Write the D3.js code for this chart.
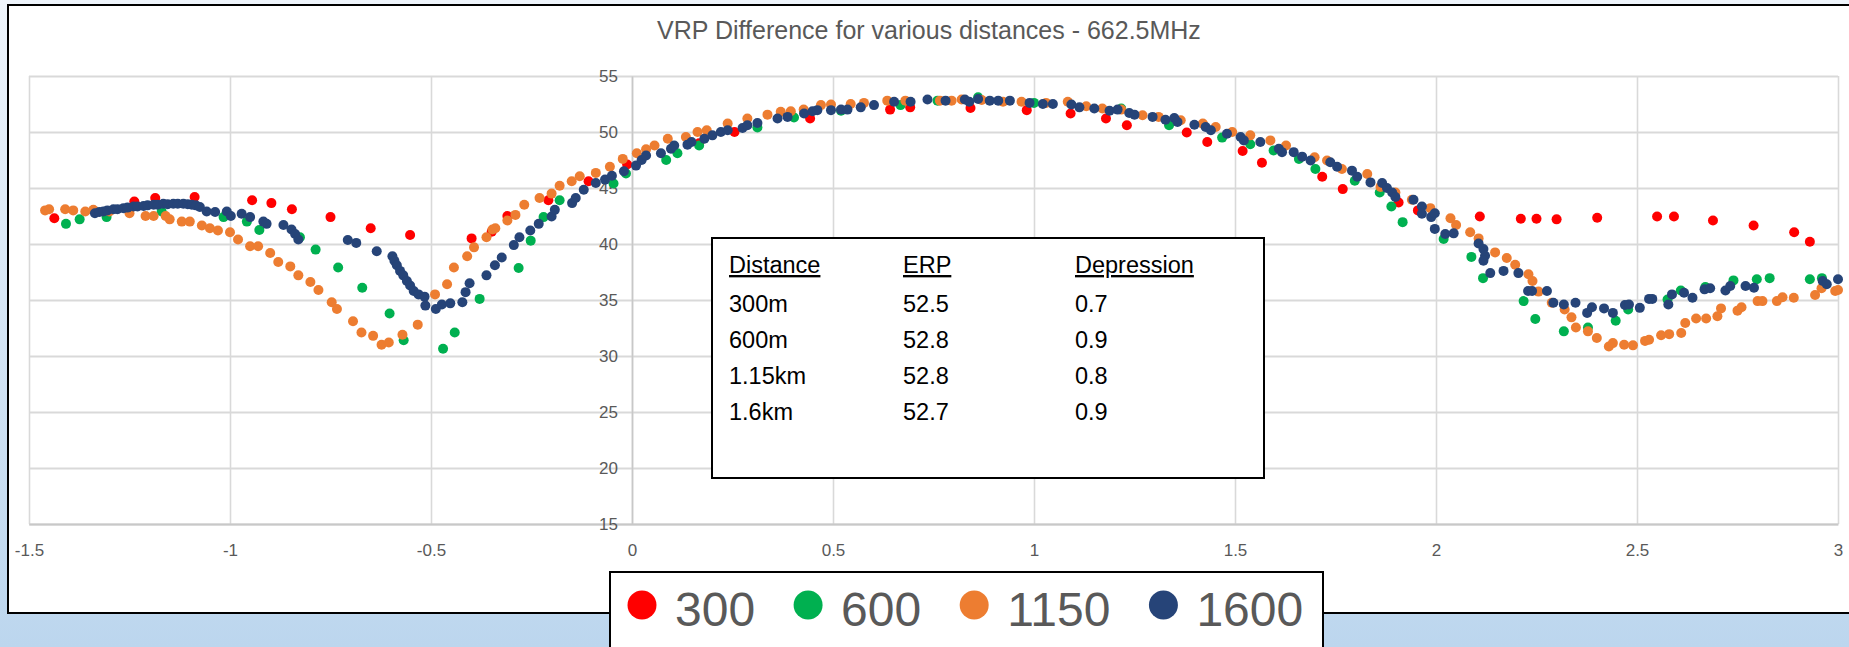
<!DOCTYPE html>
<html><head><meta charset="utf-8">
<script src="https://cdn.jsdelivr.net/npm/d3@7"></script>
<style>
html,body{margin:0;padding:0;overflow:hidden;}
body{width:1849px;height:647px;}
text{font-family:"Liberation Sans",Arial,sans-serif;}
</style></head><body>
<svg id="c" width="1849" height="647"></svg>
<script>
const chartTitle = "VRP Difference for various distances - 662.5MHz";
const xTicks = [-1.5,-1,-0.5,0,0.5,1,1.5,2,2.5,3];
const xTickLabels = ["-1.5","-1","-0.5","0","0.5","1","1.5","2","2.5","3"];
const yTicks = [15,20,25,30,35,40,45,50,55];
const seriesLabels = ["300","600","1150","1600"];
const seriesColors = ["#ff0000","#00b050","#ed7d31","#264478"];

const d300 = [[-1.437,42.3],[-1.238,43.8],[-1.186,44.1],[-1.088,44.2],[-0.945,43.9],[-0.897,43.65],[-0.846,43.1],[-0.750,42.4],[-0.650,41.4],[-0.552,40.8],[-0.399,40.5],[-0.349,41.1],[-0.310,42.5],[-0.208,43.9],[-0.108,45.6],[-0.012,47.1],[0.167,49.0],[0.255,50.0],[0.443,51.2],[0.642,52.0],[0.692,52.2],[0.842,52.15],[0.982,51.95],[1.091,51.65],[1.179,51.2],[1.231,50.6],[1.380,49.95],[1.431,49.1],[1.519,48.3],[1.567,47.25],[1.717,46.0],[1.768,44.9],[1.907,43.7],[1.955,43.0],[2.109,42.45],[2.211,42.25],[2.250,42.25],[2.300,42.2],[2.401,42.35],[2.550,42.45],[2.592,42.45],[2.689,42.1],[2.790,41.65],[2.891,41.05],[2.930,40.2]];

const d600 = [[-1.408,41.8],[-1.374,42.2],[-1.307,42.4],[-1.17,42.9],[-1.016,42.4],[-0.958,42.0],[-0.927,41.25],[-0.826,40.6],[-0.787,39.5],[-0.731,37.9],[-0.671,36.1],[-0.603,33.8],[-0.568,31.4],[-0.470,30.65],[-0.441,32.1],[-0.379,35.1],[-0.282,37.85],[-0.252,40.3],[-0.220,42.4],[-0.180,43.9],[-0.046,45.4],[-0.015,46.3],[0.085,47.5],[0.113,48.1],[0.167,48.8],[0.312,50.4],[0.403,51.3],[0.52,51.9],[0.668,52.4],[0.76,52.8],[0.861,53.1],[1.0,52.6],[1.217,52.1],[1.336,50.6],[1.468,49.5],[1.538,48.9],[1.596,48.35],[1.659,47.6],[1.700,46.7],[1.798,45.65],[1.860,44.6],[1.889,43.35],[1.917,41.95],[2.019,40.45],[2.088,38.85],[2.117,36.95],[2.218,34.9],[2.247,33.3],[2.318,32.2],[2.378,32.55],[2.447,33.15],[2.478,34.15],[2.576,35.05],[2.609,35.85],[2.670,36.15],[2.740,36.75],[2.798,36.85],[2.830,36.95],[2.930,36.85],[2.960,36.95]];

const d1150 = [[-1.46,43.0],[-1.45,43.1],[-1.41,43.1],[-1.39,43.0],[-1.36,42.9],[-1.34,43.05],[-1.30,42.9],[-1.25,42.75],[-1.21,42.5],[-1.19,42.5],[-1.16,42.5],[-1.15,42.2],[-1.12,42.0],[-1.10,42.0],[-1.07,41.65],[-1.05,41.4],[-1.03,41.2],[-1.00,41.05],[-0.98,40.4],[-0.95,39.8],[-0.93,39.8],[-0.90,39.2],[-0.88,38.4],[-0.85,38.0],[-0.83,37.2],[-0.80,36.6],[-0.78,35.9],[-0.747,34.8],[-0.734,34.2],[-0.694,33.1],[-0.673,32.1],[-0.644,31.8],[-0.623,31.0],[-0.605,31.2],[-0.571,31.9],[-0.533,32.8],[-0.49,35.5],[-0.46,36.4],[-0.443,37.9],[-0.41,38.9],[-0.393,39.7],[-0.362,40.6],[-0.347,41.3],[-0.34,41.4],[-0.31,42.1],[-0.29,42.6],[-0.268,43.5],[-0.23,44.1],[-0.20,44.5],[-0.18,45.2],[-0.15,45.6],[-0.13,46.05],[-0.09,46.35],[-0.055,46.9],[-0.023,47.6],[0.012,48.1],[0.035,48.45],[0.056,48.8],[0.089,49.4],[0.134,49.55],[0.163,50.0],[0.186,50.15],[0.238,50.75],[0.287,51.2],[0.337,51.55],[0.37,51.8],[0.395,51.85],[0.427,52.0],[0.47,52.4],[0.495,52.45],[0.544,52.5],[0.577,52.6],[0.635,52.8],[0.68,52.8],[0.766,52.8],[0.795,52.8],[0.82,52.9],[0.87,52.85],[0.923,52.7],[0.969,52.7],[1.03,52.6],[1.084,52.7],[1.13,52.3],[1.17,52.1],[1.217,52.0],[1.27,51.5],[1.31,51.35],[1.365,51.05],[1.42,50.75],[1.452,50.45],[1.493,50.0],[1.538,49.7],[1.588,49.25],[1.627,48.8],[1.698,47.75],[1.729,47.45],[1.766,46.7],[1.829,46.25],[1.862,45.1],[1.899,44.6],[1.94,43.95],[1.986,43.2],[2.036,42.3],[2.05,41.7],[2.085,41.05],[2.106,40.5],[2.147,39.25],[2.176,38.75],[2.197,38.15],[2.23,37.3],[2.24,36.7],[2.255,35.75],[2.288,34.75],[2.32,34.15],[2.337,33.45],[2.348,32.55],[2.378,32.2],[2.4,31.6],[2.43,30.85],[2.44,31.15],[2.468,31.0],[2.49,30.95],[2.52,31.35],[2.53,31.45],[2.56,31.85],[2.58,31.95],[2.61,32.05],[2.62,32.95],[2.647,33.35],[2.672,33.35],[2.7,33.55],[2.709,34.25],[2.75,34.05],[2.76,34.35],[2.8,34.9],[2.812,34.9],[2.848,34.9],[2.862,35.25],[2.89,35.2],[2.943,35.45],[2.959,36.05],[2.993,35.8],[3.0,35.9]];

const d1600 = [[-1.336,42.75],[-1.325,42.85],[-1.315,42.9],[-1.305,43.0],[-1.29,43.1],[-1.28,43.1],[-1.265,43.2],[-1.255,43.25],[-1.24,43.35],[-1.23,43.35],[-1.215,43.4],[-1.205,43.45],[-1.19,43.5],[-1.18,43.5],[-1.166,43.6],[-1.155,43.55],[-1.141,43.6],[-1.13,43.6],[-1.116,43.6],[-1.105,43.55],[-1.095,43.5],[-1.085,43.45],[-1.075,43.3],[-1.058,42.9],[-1.037,42.85],[-1.008,42.9],[-0.998,42.5],[-0.971,42.7],[-0.95,42.4],[-0.917,42.0],[-0.909,41.8],[-0.867,41.7],[-0.847,41.3],[-0.838,40.9],[-0.83,40.4],[-0.707,40.35],[-0.686,40.1],[-0.635,39.35],[-0.596,38.9],[-0.591,38.5],[-0.585,38.1],[-0.577,37.6],[-0.569,37.2],[-0.56,36.7],[-0.552,36.3],[-0.543,35.8],[-0.531,35.5],[-0.516,35.3],[-0.514,34.5],[-0.488,34.2],[-0.473,34.6],[-0.452,34.7],[-0.422,34.8],[-0.414,35.7],[-0.404,36.5],[-0.362,37.2],[-0.341,38.1],[-0.324,38.8],[-0.294,39.9],[-0.28,40.6],[-0.253,41.2],[-0.232,41.8],[-0.20,42.45],[-0.192,43.05],[-0.149,43.65],[-0.14,44.1],[-0.12,44.85],[-0.09,45.45],[-0.067,45.75],[-0.05,46.1],[-0.02,46.5],[0.01,47.0],[0.024,47.5],[0.035,47.9],[0.072,48.1],[0.097,48.5],[0.105,48.8],[0.138,48.87],[0.148,49.1],[0.18,49.4],[0.2,49.7],[0.221,50.0],[0.238,50.15],[0.275,50.35],[0.287,50.6],[0.312,50.8],[0.362,51.2],[0.387,51.35],[0.428,51.65],[0.449,51.85],[0.461,51.95],[0.495,51.95],[0.52,52.0],[0.536,52.0],[0.569,52.2],[0.602,52.4],[0.652,52.7],[0.693,52.7],[0.735,52.9],[0.78,52.8],[0.828,52.9],[0.839,52.7],[0.861,52.95],[0.89,52.8],[0.911,52.8],[0.94,52.8],[0.989,52.6],[1.022,52.5],[1.047,52.5],[1.093,52.45],[1.113,52.2],[1.15,52.1],[1.188,51.9],[1.208,52.0],[1.237,51.7],[1.25,51.55],[1.295,51.35],[1.327,51.1],[1.349,51.25],[1.357,50.9],[1.399,50.65],[1.427,50.45],[1.44,50.15],[1.48,49.85],[1.514,49.55],[1.522,49.25],[1.563,49.1],[1.609,48.5],[1.617,48.2],[1.646,48.2],[1.667,47.8],[1.688,47.45],[1.737,47.3],[1.754,46.9],[1.791,46.55],[1.804,46.0],[1.837,45.5],[1.866,45.45],[1.878,45.0],[1.891,44.6],[1.899,44.2],[1.944,43.95],[1.965,43.35],[1.965,42.7],[1.988,42.4],[1.997,42.75],[1.997,41.35],[2.023,40.9],[2.044,40.95],[2.106,40.05],[2.118,39.55],[2.122,38.95],[2.118,38.5],[2.135,37.4],[2.168,37.6],[2.205,37.4],[2.229,35.8],[2.239,35.8],[2.276,35.8],[2.292,34.75],[2.318,34.6],[2.347,34.75],[2.376,33.85],[2.388,34.35],[2.418,34.25],[2.44,33.85],[2.47,34.55],[2.48,34.6],[2.507,34.3],[2.53,35.1],[2.538,35.1],[2.578,34.6],[2.587,35.5],[2.617,35.65],[2.638,35.2],[2.668,35.95],[2.682,36.05],[2.72,35.85],[2.732,36.25],[2.77,36.25],[2.791,36.1],[2.962,36.7],[2.972,36.4],[3.0,36.85]];

const tableHeader = ["Distance","ERP","Depression"];
const tableRows = [["300m","52.5","0.7"],["600m","52.8","0.9"],["1.15km","52.8","0.8"],["1.6km","52.7","0.9"]];

const allSeries = [d300, d600, d1150, d1600];

const svg = d3.select("#c");
const W = 1849, H = 647;

// background
const defs = svg.append("defs");
const grad = defs.append("linearGradient").attr("id","bg").attr("x1",0).attr("y1",0).attr("x2",0).attr("y2",1);
grad.append("stop").attr("offset","0%").attr("stop-color","#eef4fb");
grad.append("stop").attr("offset","100%").attr("stop-color","#bcd6ee");
svg.append("rect").attr("width",W).attr("height",H).attr("fill","url(#bg)");
svg.append("rect").attr("x",8).attr("y",5).attr("width",W).attr("height",608)
  .attr("fill","#fff").attr("stroke","#000").attr("stroke-width",2);

// title
svg.append("text").attr("x",929).attr("y",39).attr("text-anchor","middle")
  .attr("font-size",25).attr("fill","#595959").text(chartTitle);

// scales
const x = d3.scaleLinear().domain([-1.5,3]).range([29,1838]);
const y = d3.scaleLinear().domain([15,55]).range([524,76]);

// grid
const grid = svg.append("g");
grid.append("g").attr("transform",`translate(0,${y(15)})`)
  .call(d3.axisBottom(x).tickValues(xTicks).tickSize(-(y(15)-y(55))).tickFormat(""))
  .call(g=>g.select(".domain").remove())
  .call(g=>g.selectAll("line").attr("stroke","#d9d9d9").attr("stroke-width",1.6));
grid.append("g").attr("transform",`translate(${x(-1.5)},0)`)
  .call(d3.axisLeft(y).tickValues(yTicks).tickSize(-(x(3)-x(-1.5))).tickFormat(""))
  .call(g=>g.select(".domain").remove())
  .call(g=>g.selectAll("line").attr("stroke","#d9d9d9").attr("stroke-width",2));

// axes
const xAxis = svg.append("g").attr("transform",`translate(0,${y(15)})`)
  .call(d3.axisBottom(x).tickValues(xTicks).tickSize(0).tickPadding(20)
    .tickFormat((d,i)=>xTickLabels[i]));
xAxis.select(".domain").attr("stroke","#c8c8c8").attr("stroke-width",2);
xAxis.selectAll("text").attr("font-size",17).attr("fill","#595959")
  .attr("font-family","'Liberation Sans',Arial,sans-serif");

const yAxis = svg.append("g").attr("transform",`translate(${x(0)},0)`)
  .call(d3.axisLeft(y).tickValues(yTicks).tickSize(0).tickPadding(14).tickFormat(d=>String(d)));
yAxis.select(".domain").attr("stroke","#c8c8c8").attr("stroke-width",1.6);
yAxis.selectAll("text").attr("font-size",17).attr("fill","#595959")
  .attr("font-family","'Liberation Sans',Arial,sans-serif");

// points
allSeries.forEach((data,i)=>{
  svg.append("g").selectAll("circle").data(data).join("circle")
    .attr("cx",d=>x(d[0])).attr("cy",d=>y(d[1])).attr("r",5)
    .attr("fill",seriesColors[i]);
});

// table box
const tb = svg.append("g");
tb.append("rect").attr("x",712).attr("y",238).attr("width",552).attr("height",240)
  .attr("fill","#fff").attr("stroke","#000").attr("stroke-width",2);
const colX = [729,903,1075];
tableHeader.forEach((h,i)=>{
  tb.append("text").attr("x",colX[i]).attr("y",273).attr("font-size",23.5)
    .attr("fill","#000").style("text-decoration","underline").text(h);
});
tableRows.forEach((r,ri)=>{
  r.forEach((c,ci)=>{
    tb.append("text").attr("x",colX[ci]).attr("y",312+ri*36).attr("font-size",23.5)
      .attr("fill","#000").text(c);
  });
});

// legend
const lg = svg.append("g");
lg.append("rect").attr("x",610).attr("y",572).attr("width",713).attr("height",100)
  .attr("fill","#fff").attr("stroke","#000").attr("stroke-width",2);
let cx = 642;
seriesLabels.forEach((lab,i)=>{
  lg.append("circle").attr("cx",cx).attr("cy",605).attr("r",14.5).attr("fill",seriesColors[i]);
  const t = lg.append("text").attr("x",cx+33).attr("y",626).attr("font-size",48)
    .attr("fill","#595959").text(lab);
  const w = t.node().getComputedTextLength();
  cx = cx + 33 + w + 53;
});
</script>
</body></html>
